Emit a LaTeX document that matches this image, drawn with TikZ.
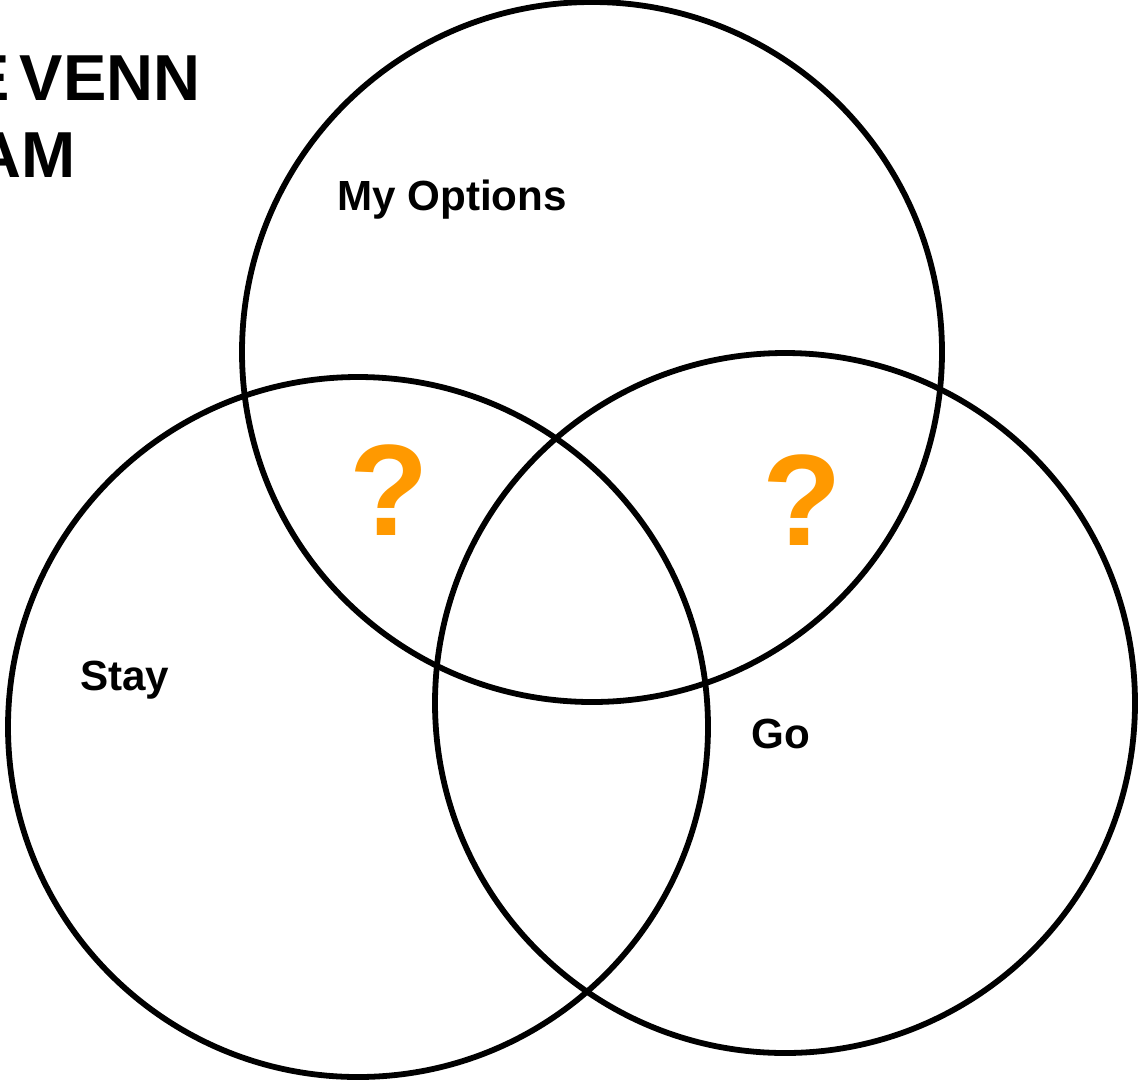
\documentclass[tikz,border=0pt]{standalone}
\usepackage{fontspec}
\setmainfont{Liberation Sans}
\usepackage{tikz}
\usetikzlibrary{positioning}
\definecolor{qorange}{HTML}{FF9900}

\begin{document}
\begin{tikzpicture}[x=0.02cm, y=-0.02cm]
            \tikzset {
                set circle/.style={
                        draw,
                        line width=3.3pt
                    },
                set label/.style={
                        font=\bfseries\fontsize{24}{28}\selectfont,
                        inner sep=0pt,
                        anchor=base west
                    },
                title line/.style={
                        font=\bfseries\fontsize{37}{44}\selectfont,
                        inner sep=0pt,
                        anchor=base east
                    },
                unknown mark/.style={
                        font=\bfseries\fontsize{74}{80}\selectfont,
                        text=qorange,
                        inner sep=0pt
                    }}

            \clip (0,0) rectangle (1140,1080);

            % title (cut at the left edge)
            \node[title line] (title1) at (201,100) {THE\kern0.15em VENN};
            \node[title line] (title2) at (76,177) {DIAGRAM};

            % sets
            \draw[set circle] (592,352) circle (350);
            \draw[set circle] (358,727) circle (350);
            \draw[set circle] (785,703) circle (350);

            % labels
            \node[set label] (options) at (337,210) {My Options};
            \node[set label] (stay) at (80,690) {Stay};
            \node[set label] (go) at (751,748) {Go};

            % unknowns
            \node[unknown mark] (qstay) at (389,490) {?};
            \node[unknown mark] (qgo) at (802,500) {?};
        \end{tikzpicture}
\end{document}
